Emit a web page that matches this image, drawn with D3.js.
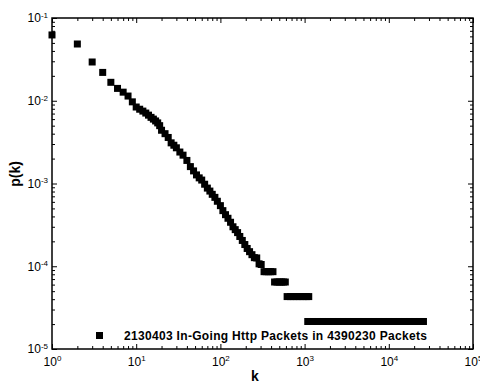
<!DOCTYPE html>
<html>
<head>
<meta charset="utf-8">
<script src="https://cdn.jsdelivr.net/npm/d3@7"></script>
<style>
  body { margin: 0; background: #fff; }
  svg { font-family: "Liberation Sans", Arial, Helvetica, sans-serif; }
</style>
</head>
<body>
<div id="chart"></div>
<script>
// degree k and probability p(k)
var kValues = [1, 2, 3, 4, 5, 6, 7, 8, 9, 10,
  11, 12, 13, 14, 15, 16, 17, 18, 19, 20,
  22, 24, 26, 28, 30, 33, 36, 40, 44, 48,
  52, 56, 60, 65, 70, 75, 80, 86, 92, 100,
  107, 115, 123, 132, 141, 150, 160, 170, 182, 195,
  208, 222, 237, 253, 270, 288, 305,
  330, 350, 372, 395, 421,
  440, 470, 500, 530, 560, 590,
  620, 680, 740, 810, 880, 960, 1050, 1120,
  1090, 1250, 1440, 1650, 1900, 2180, 2500, 2880, 3300, 3800, 4370, 5000,
  5760, 6600, 7600, 8700, 10000, 11500, 13200, 15200, 17400, 20000, 23000, 25800];
var pValues = [0.0624, 0.0485, 0.0294, 0.0220, 0.0167, 0.0141, 0.0127, 0.0114, 0.0097, 0.0084,
  0.0079, 0.0075, 0.0071, 0.0067, 0.0063, 0.0060, 0.0057, 0.0054, 0.0050, 0.0044,
  0.0040, 0.0036, 0.0031, 0.0029, 0.0027, 0.0024, 0.0022, 0.0019, 0.0016, 0.00142,
  0.00127, 0.00117, 0.00110, 0.00098, 0.00088, 0.00081, 0.00074, 0.00068, 0.00061, 0.00054,
  0.00047, 0.00042, 0.00038, 0.00034, 0.00030, 0.000277, 0.000255, 0.000229, 0.000205, 0.000183,
  0.000164, 0.000150, 0.000138, 0.000127, 0.000126, 0.000107, 0.000105,
  0.000086, 0.000086, 0.000086, 0.000086, 0.000086,
  0.0000645, 0.0000645, 0.0000645, 0.0000645, 0.0000645, 0.0000645,
  0.000043, 0.000043, 0.000043, 0.000043, 0.000043, 0.000043, 0.000043, 0.000043,
  0.0000215, 0.0000215, 0.0000215, 0.0000215, 0.0000215, 0.0000215, 0.0000215, 0.0000215, 0.0000215, 0.0000215, 0.0000215, 0.0000215,
  0.0000215, 0.0000215, 0.0000215, 0.0000215, 0.0000215, 0.0000215, 0.0000215, 0.0000215, 0.0000215, 0.0000215, 0.0000215, 0.0000215];

var xTicks = [1, 10, 100, 1000, 10000, 100000];
var yTicks = [1e-5, 1e-4, 1e-3, 1e-2, 1e-1];
var legendText = "2130403 In-Going Http Packets in 4390230 Packets";

var data = kValues.map(function(k, i) { return {k: k, p: pValues[i]}; });

var W = 480, H = 383;
var mLeft = 52, mRight = 473, mTop = 18, mBottom = 349;

var svg = d3.select("#chart")
  .append("svg")
    .attr("width", W)
    .attr("height", H);

var x = d3.scaleLog().domain([1, 1e5]).range([mLeft, mRight]);
var y = d3.scaleLog().domain([1e-5, 1e-1]).range([mBottom, mTop]);

function minors(ticks) {
  var out = [];
  for (var i = 0; i < ticks.length - 1; i++)
    for (var m = 2; m <= 9; m++) out.push(ticks[i] * m);
  return out;
}

function supLabels(g) {
  g.selectAll(".tick text").each(function(d) {
    var t = d3.select(this);
    t.text("");
    t.append("tspan").text("10");
    t.append("tspan").attr("dy", "-0.55em").attr("font-size", "8px").text(Math.round(Math.log10(d)));
  });
}

function styleAxis(g) {
  g.select(".domain").remove();
  g.selectAll(".tick line").attr("stroke", "#000");
}

// bottom
var gb = svg.append("g").attr("transform", "translate(0," + mBottom + ")")
  .call(d3.axisBottom(x).tickValues(xTicks).tickSize(-5).tickPadding(8))
  .call(styleAxis).call(supLabels);
gb.selectAll(".tick text").attr("font-size", "12px").attr("fill", "#000").attr("font-family", "Liberation Sans, Arial, sans-serif");
svg.append("g").attr("transform", "translate(0," + mBottom + ")")
  .call(d3.axisBottom(x).tickValues(minors(xTicks)).tickSize(-3).tickFormat(""))
  .call(styleAxis);
// top
svg.append("g").attr("transform", "translate(0," + mTop + ")")
  .call(d3.axisTop(x).tickValues(xTicks).tickSize(-5).tickFormat(""))
  .call(styleAxis);
svg.append("g").attr("transform", "translate(0," + mTop + ")")
  .call(d3.axisTop(x).tickValues(minors(xTicks)).tickSize(-3).tickFormat(""))
  .call(styleAxis);
// left
var gl = svg.append("g").attr("transform", "translate(" + mLeft + ",0)")
  .call(d3.axisLeft(y).tickValues(yTicks).tickSize(-5).tickPadding(4))
  .call(styleAxis).call(supLabels);
gl.selectAll(".tick text").attr("font-size", "12px").attr("fill", "#000").attr("font-family", "Liberation Sans, Arial, sans-serif");
svg.append("g").attr("transform", "translate(" + mLeft + ",0)")
  .call(d3.axisLeft(y).tickValues(minors(yTicks)).tickSize(-3).tickFormat(""))
  .call(styleAxis);
// right
svg.append("g").attr("transform", "translate(" + mRight + ",0)")
  .call(d3.axisRight(y).tickValues(yTicks).tickSize(-5).tickFormat(""))
  .call(styleAxis);
svg.append("g").attr("transform", "translate(" + mRight + ",0)")
  .call(d3.axisRight(y).tickValues(minors(yTicks)).tickSize(-3).tickFormat(""))
  .call(styleAxis);

// frame
svg.append("rect")
  .attr("x", mLeft).attr("y", mTop)
  .attr("width", mRight - mLeft).attr("height", mBottom - mTop)
  .attr("fill", "none").attr("stroke", "#000").attr("stroke-width", 1.5);

// points
var s = 7;
svg.append("g").selectAll("rect.pt")
  .data(data)
  .enter().append("rect")
    .attr("class", "pt")
    .attr("x", function(d) { return x(d.k) - s / 2; })
    .attr("y", function(d) { return y(d.p) - s / 2; })
    .attr("width", s).attr("height", s)
    .attr("fill", "#000");

// legend
svg.append("rect").attr("x", 96).attr("y", 332).attr("width", 7).attr("height", 7).attr("fill", "#000");
svg.append("text").attr("x", 124).attr("y", 340)
  .attr("font-size", "12px").attr("font-weight", "bold")
  .attr("textLength", 303).attr("lengthAdjust", "spacing")
  .text(legendText);

// axis titles
svg.append("text").attr("x", 255).attr("y", 381)
  .attr("text-anchor", "middle").attr("font-size", "14px").attr("font-weight", "bold")
  .text("k");
svg.append("text")
  .attr("transform", "translate(20,174) rotate(-90)")
  .attr("text-anchor", "middle").attr("font-size", "14px").attr("font-weight", "bold")
  .text("p(k)");
</script>
</body>
</html>
